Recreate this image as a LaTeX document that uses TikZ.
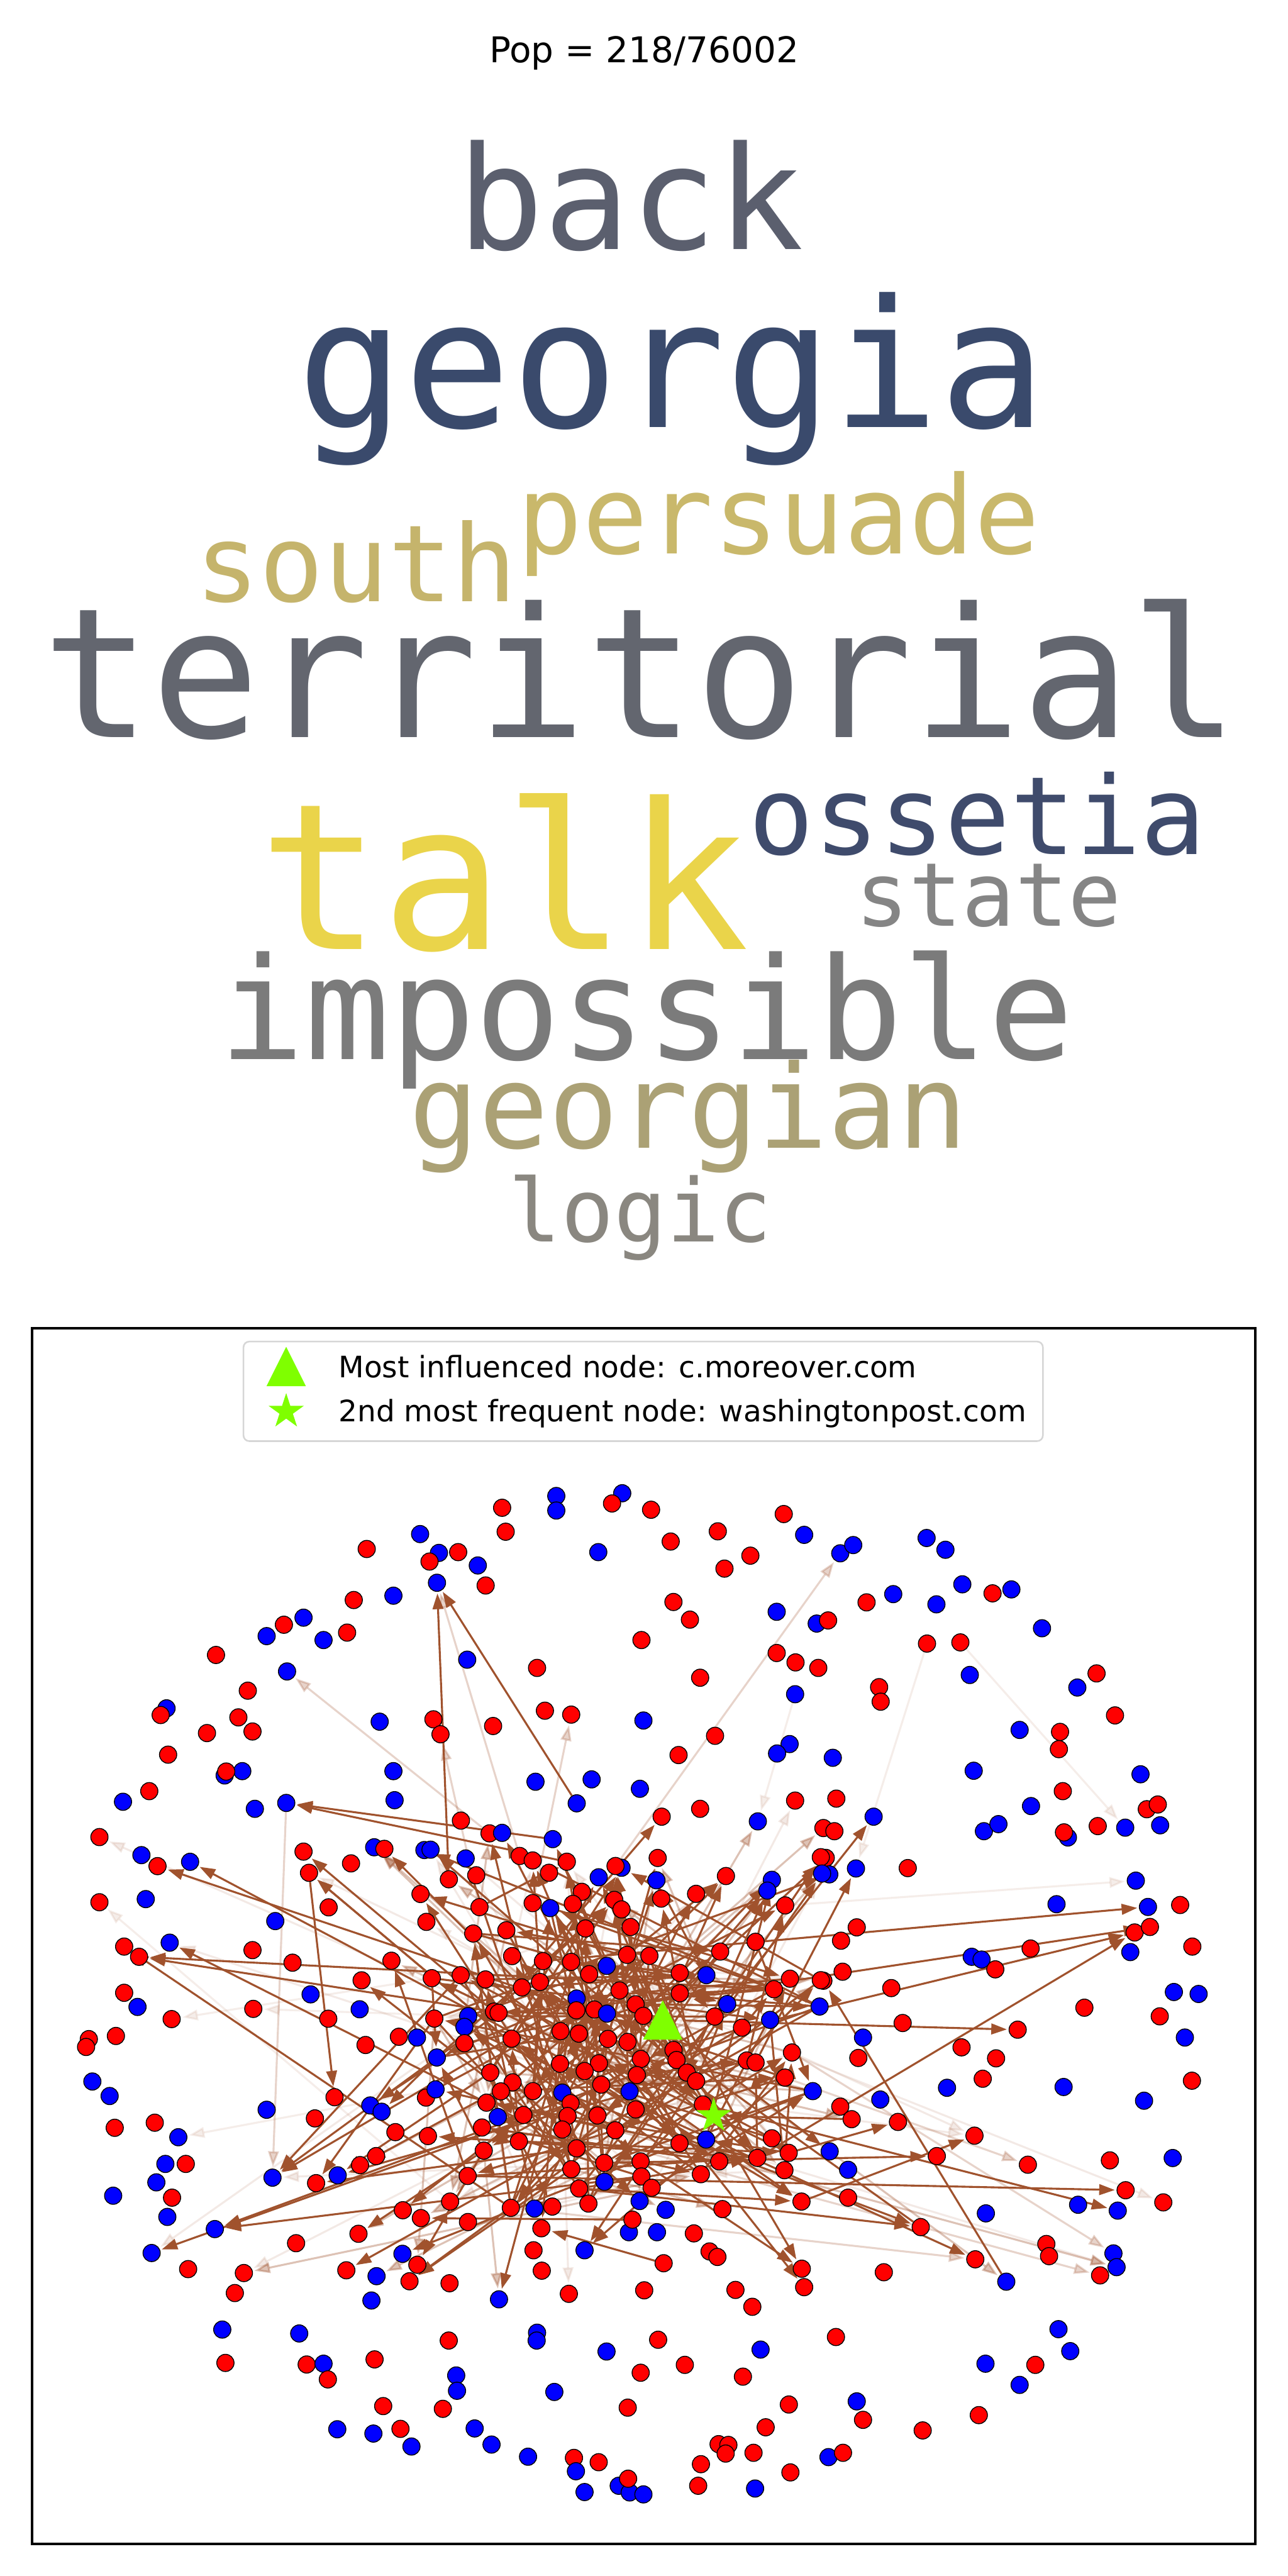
\documentclass[tikz,border=0pt]{standalone}
\usepackage{fontspec}
\setmainfont{DejaVu Sans}
\newfontfamily\cloudfont{DejaVu Sans Mono}
\usetikzlibrary{arrows.meta,shapes.geometric}
\definecolor{EdgeBrown}{HTML}{A0522D}
\definecolor{MarkGreen}{HTML}{7FFF00}
\definecolor{LegFrame}{HTML}{D6D6D6}
\definecolor{wBack}{HTML}{5B5F6E}
\definecolor{wGeorgia}{HTML}{3A4A6C}
\definecolor{wPersuade}{HTML}{C9B86B}
\definecolor{wSouth}{HTML}{C5B46C}
\definecolor{wTerr}{HTML}{63666F}
\definecolor{wTalk}{HTML}{EAD44A}
\definecolor{wOssetia}{HTML}{3F4B6C}
\definecolor{wState}{HTML}{858585}
\definecolor{wImposs}{HTML}{7B7B7B}
\definecolor{wGeorgian}{HTML}{ABA175}
\definecolor{wLogic}{HTML}{8A8780}
\pgfdeclarelayer{paper}
\pgfdeclarelayer{edges}
\pgfsetlayers{paper,edges,main}

\begin{document}
\begin{tikzpicture}[x=0.02cm, y=-0.02cm,
  word/.style={anchor=base, inner sep=0pt, font=\cloudfont\fontsize{#1}{#1}\selectfont},
  legtext/.style={anchor=base west, inner sep=0pt, font=\fontsize{10.24}{12}\selectfont},
  dot/.style={circle, fill=#1, draw=black, line width=0.3pt, minimum size=0.21cm, inner sep=0pt},
  edge/.style={draw=EdgeBrown, line width=0.68pt, -{Triangle[length=0.19cm,width=0.13cm]}, shorten >=0.6pt},
  faint/.style={opacity=0.25},
  dim/.style={opacity=0.1},
  trimark/.style={minimum size=0.48cm, inner sep=0pt,
    path picture={\fill[MarkGreen] (path picture bounding box.south west)
      -- (path picture bounding box.south east) -- (path picture bounding box.north) -- cycle;}},
  starmark/.style={star, star points=5, star point ratio=2.618, fill=MarkGreen,
    minimum size=0.45cm, inner sep=0pt}]
  \begin{pgfonlayer}{paper}
    \fill[white] (0,0) rectangle (784,1568);
  \end{pgfonlayer}
  \useasboundingbox (0,0) rectangle (784,1568);

  \node[anchor=base, inner sep=0pt, font=\fontsize{12.3}{14}\selectfont] (title) at (392,37.9) {Pop = 218/76002};

  % word cloud
  \node[word=49.8, text=wBack] (wback) at (383.8,151.8) {back};
  \node[word=61.6, text=wGeorgia] (wgeorgia) at (409,260) {georgia};
  \node[word=37.6, text=wPersuade] (wpersuade) at (474,337) {persuade};
  \node[word=37.0, text=wSouth] (wsouth) at (216.8,366) {south};
  \node[word=62.6, text=wTerr] (wterritorial) at (390,449) {territorial};
  \node[word=70.6, text=wTalk] (wtalk) at (306.8,578) {talk};
  \node[word=37.6, text=wOssetia] (wossetia) at (595,520) {ossetia};
  \node[word=30.6, text=wState] (wstate) at (601.8,563.5) {state};
  \node[word=49.2, text=wImposs] (wimpossible) at (393.5,645) {impossible};
  \node[word=40.2, text=wGeorgian] (wgeorgian) at (419,699) {georgian};
  \node[word=30.3, text=wLogic] (wlogic) at (389.8,756) {logic};

  % network panel
  \draw[line width=0.83pt] (19.6,808.4) rectangle (764.2,1548.6);

  \begin{scope}[shift={(18.95,840.6)}, scale=0.2389]
    \foreach \px/\py/\cc [count=\i] in {
      1200/323/red, 1338/293/blue, 1338/330/blue, 1506/286/blue, 1480/312/red, 1209/384/red, 991/390/blue, 855/428/red, 1039/438/blue, 1088/436/red,
      1015/460/red, 1138/470/blue, 1445/436/blue, 1034/514/blue, 1158/521/red, 822/558/red, 923/547/blue, 644/621/red, 694/603/blue, 600/650/blue,
      745/660/blue, 805/641/red, 1555/660/red, 471/698/red, 1111/710/blue, 1289/731/red, 652/740/blue, 552/789/red, 345/834/blue, 330/851/red,
      528/857/red, 448/897/red, 564/893/red, 888/868/blue, 1025/862/red, 1043/900/red, 1177/879/red, 1309/840/red, 1376/850/red, 1560/865/blue,
      349/952/red, 538/994/blue, 493/1005/blue, 497/995/red, 923/994/blue, 1285/1021/blue, 1428/1015/blue, 1551/1039/blue, 301/1045/red, 234/1072/blue,
      570/1090/blue, 650/1075/blue, 926/1068/blue, 1390/1076/blue, 174/1162/red, 1095/1120/red, 281/1208/blue, 322/1236/red, 405/1225/blue, 694/1199/red,
      708/1253/red, 815/1229/red, 874/1188/blue, 900/1192/red, 1002/1195/blue, 174/1328/red, 292/1320/blue, 622/1376/blue, 758/1341/red, 992/1307/red,
      1007/1378/red, 237/1441/red, 275/1467/red, 353/1431/blue, 564/1450/red, 666/1482/red, 918/1477/red, 842/1527/red}
      \node[dot=\cc] (nw\i) at (\px,\py) {};
  \end{scope}

  \begin{scope}[shift={(392,840.6)}, scale=0.2389]
    \foreach \px/\py/\cc [count=\i] in {
      18/328/red, 356/339/red, 68/409/red, 188/383/red, 205/478/red, 271/445/red, 408/392/blue, 500/439/blue, 533/418/blue, 720/400/blue,
      768/430/blue, 75/563/red, 117/608/red, 338/588/blue, 440/618/blue, 469/610/red, 567/564/red, 635/543/blue, 745/569/blue, 811/518/blue,
      888/541/red, 936/531/blue, 1014/630/blue, 338/693/red, 386/717/red, 444/731/red, 721/669/red, 806/666/red, 830/749/blue, 143/756/red,
      1153/745/red, 1104/781/blue, 385/798/blue, 599/780/red, 603/817/red, 1200/852/red, 181/904/red, 88/953/red, 371/925/blue, 339/949/blue,
      481/960/blue, 957/889/blue, 1060/894/red, 1057/938/red, 840/993/blue, 1265/1002/blue, 1067/1045/red, 986/1083/blue, 1281/1091/red, 1309/1079/red,
      866/1147/blue, 903/1129/blue, 1080/1163/blue, 1070/1150/red, 1156/1134/red, 1226/1138/blue, 1315/1132/blue, 385/1069/red, 490/1064/red, 585/1110/blue,
      457/1139/red, 485/1147/red, 45/1110/red, 143/1090/red, 290/1122/blue, 463/1215/red, 472/1257/blue, 540/1242/blue, 672/1241/red, 1253/1273/blue,
      1051/1333/blue, 1284/1340/blue, 1366/1335/red, 1250/1405/red, 1289/1391/red, 1239/1455/blue, 1397/1441/red, 542/1392/red, 502/1426/red, 835/1467/blue,
      860/1474/blue, 985/1446/red, 895/1499/red, 457/1528/red, 506/1505/red}
      \node[dot=\cc] (ne\i) at (\px,\py) {};
  \end{scope}

  \begin{scope}[shift={(18.95,1193.4)}, scale=0.2389]
    \foreach \px/\py/\cc [count=\i] in {
      237/82/red, 271/118/blue, 358/149/red, 566/123/red, 712/86/blue, 757/148/red, 837/124/blue, 147/200/red, 140/220/red, 216/192/red,
      156/308/blue, 200/345/blue, 852/215/red, 937/194/red, 983/196/blue, 600/380/blue, 773/348/red, 723/402/red, 213/426/red, 315/413/red,
      375/450/blue, 342/518/blue, 394/518/red, 319/565/blue, 359/604/red, 209/599/blue, 347/653/blue, 615/553/blue, 726/567/red, 781/547/blue,
      838/521/red, 879/498/red, 928/437/red, 1011/447/red, 864/369/blue, 893/385/blue, 1006/349/red, 468/684/blue, 307/745/blue, 400/786/red,
      542/796/red, 519/847/red, 675/720/red, 834/696/red, 947/636/red, 993/656/red, 946/747/blue, 984/775/red, 803/789/red, 880/804/blue,
      964/817/red, 867/866/blue, 1066/822/red, 1113/666/red, 1300/682/red, 1280/738/red, 1301/790/red, 1410/738/blue, 1370/849/red, 1192/863/blue,
      1523/692/blue, 1532/660/red, 1562/840/red, 487/940/blue, 683/950/blue, 495/1025/red, 702/1029/red, 745/1027/blue, 756/1067/red, 875/1016/red,
      1064/968/red, 1289/948/blue, 1288/968/blue, 1466/996/blue, 1553/1050/red, 1083/1057/blue, 1085/1096/blue, 1333/1099/blue, 897/1135/red, 1049/1142/red,
      1520/1139/red, 780/1194/blue, 872/1205/blue, 941/1193/red, 969/1238/blue, 1130/1192/blue, 1173/1233/blue, 1266/1264/blue, 1383/1267/red, 1446/1278/red,
      1388/1301/blue, 1410/1354/blue, 1497/1338/blue, 1525/1355/blue, 1521/1320/red, 1560/1360/blue}
      \node[dot=\cc] (sw\i) at (\px,\py) {};
  \end{scope}

  \begin{scope}[shift={(392,1193.4)}, scale=0.2389]
    \foreach \px/\py/\cc [count=\i] in {
      1350/80/blue, 1413/85/blue, 630/70/red, 1122/120/red, 1314/142/red, 1378/196/blue, 952/176/red, 659/159/red, 558/196/blue, 809/221/red,
      897/249/red, 546/248/red, 863/301/red, 772/324/blue, 1069/322/blue, 1274/357/blue, 1396/306/red, 602/354/blue, 500/372/red, 529/404/red,
      647/411/red, 842/446/red, 746/498/red, 978/520/red, 1187/509/red, 1347/503/blue, 1227/585/red, 1323/616/red, 1106/622/blue, 1207/637/blue,
      871/644/blue, 705/679/red, 520/604/red, 520/533/blue, 473/486/blue, 1025/722/red, 1032/753/red, 1196/746/blue, 1204/781/blue, 1162/802/red,
      844/761/red, 923/818/blue, 611/794/red, 402/785/red, 408/832/red, 233/839/red, 276/882/red, 50/771/red, 167/741/red, 187/755/red,
      127/695/red, 33/692/blue, 36/966/red, 297/991/blue, 104/1030/red, 252/1060/red, 489/959/red, 542/1123/blue, 558/1170/red, 369/1131/red,
      310/1189/red, 190/1232/red, 215/1234/red, 208/1256/red, 279/1254/red, 470/1265/blue, 507/1254/red, 145/1283/red, 373/1304/red, 138/1338/red,
      283/1345/blue, 710/1197/red, 853/1158/red, 870/1027/blue, 997/1030/red, 957/1081/blue, 1056/939/blue, 1086/995/blue}
      \node[dot=\cc] (se\i) at (\px,\py) {};
  \end{scope}

  \begin{scope}[shift={(261.3,1110.6)}, scale=0.15277]
    \foreach \px/\py/\cc [count=\i] in {
      5/100/blue, 145/135/blue, 240/35/red, 290/33/blue, 492/58/blue, 360/125/red, 412/143/red, 548/148/red, 477/192/red, 78/218/red,
      187/202/red, 766/172/blue, 742/165/red, 675/210/blue, 910/133/red, 905/222/blue, 924/295/red, 1182/205/red, 1063/276/red, 1365/220/blue,
      1347/263/blue, 1418/322/red, 1560/130/red, 1565/195/blue, 608/268/red, 572/316/red, 737/300/red, 766/338/red, 412/313/red, 482/333/blue,
      200/329/red, 802/408/red, 622/414/red, 175/434/red, 307/421/red, 1300/467/red, 1159/506/red, 330/524/red, 453/544/red, 565/547/red,
      788/519/red, 877/523/red, 707/563/blue, 637/596/red, 125/600/red, 224/617/red, 10/612/red, 369/649/red, 441/627/red, 998/591/red,
      1104/600/blue, 1437/614/red, 1373/656/red, 1560/620/red, 758/661/red, 998/672/red, 587/693/blue, 586/740/red, 658/737/red, 708/753/blue,
      822/716/red, 853/762/red, 258/745/red, 276/750/red, 155/763/blue, 140/806/blue, 20/773/red, 1187/715/blue, 1358/778/blue, 1137/765/red,
      1246/809/red, 1555/725/blue, 523/823/red, 596/833/red, 712/854/red, 790/866/red, 328/853/red, 140/871/red, 30/928/blue, 973/898/red,
      985/938/red, 843/934/red, 1445/908/red, 1265/940/red, 1300/948/red, 521/953/red, 676/951/red, 619/982/red, 243/988/red, 1026/988/red,
      1063/1022/red, 827/998/red, 685/1036/red, 332/1027/red, 285/1063/red, 413/1062/red, 530/1068/blue, 563/1110/red, 551/1161/red, 530/1215/red,
      25/1055/blue, 798/1063/blue, 228/1108/red, 273/1165/blue, 375/1157/red, 670/1159/red, 822/1135/red, 1417/1008/red, 1528/1062/blue, 1090/1115/red,
      1103/1255/blue, 997/1270/red, 210/1207/red, 741/1218/red, 357/1262/red, 217/1299/red, 587/1290/red, 1365/1250/red, 1432/1308/red, 1415/1377/red,
      1307/1328/red, 1155/1342/red, 1082/1393/red, 697/1348/red, 842/1342/red, 845/1402/red, 886/1447/red, 566/1373/red, 698/1423/blue, 153/1400/red,
      597/1450/red, 634/1510/red, 490/1522/red, 419/1530/blue, 325/1527/red, 83/1502/red, 838/1500/blue, 942/1535/blue, 1168/1532/red, 1483/1502/red}
      \node[dot=\cc] (c\i) at (\px,\py) {};
  \end{scope}

  \node[trimark] (infl) at (403.4,1229.5) {};
  \node[starmark] (freq) at (434.4,1287.9) {};

  \begin{pgfonlayer}{edges}
    \foreach \s/\t in {c10/nw14, nw54/nw14, c5/nw52, c8/nw52, nw61/sw17, c39/ne72, c61/ne75, c71/ne74,
      c121/ne74, c131/se32, c125/se44, se42/ne84, infl/se7, se32/c80, c45/sw28, c67/sw29, c89/sw30,
      c94/sw31, c78/sw35, c116/sw48, c128/sw51, sw62/sw46, se48/sw55, c114/nw61, c106/nw61, c90/c21,
      c55/c22, c92/c84, c53/c56, se20/freq, c119/se21, c140/se22}
      \draw[edge] (\s) -- (\t);
    \foreach \s/\t in {nw52/sw28, c108/se24, c83/se38, c135/se41, c29/nw39, c31/nw36, c3/nw27,
      c13/ne8, c100/se40, c6/nw14}
      \draw[edge, faint] (\s) -- (\t);
    \foreach \s/\t in {c136/nw66, c101/sw21, c47/sw3, c65/sw4, ne28/ne56, ne27/ne68, ne33/ne65, c22/ne70}
      \draw[edge, dim] (\s) -- (\t);
    \pgfmathsetseed{2718}
    \foreach \k in {1,...,240}{
      \pgfmathrandominteger{\src}{30}{135}
      \pgfmathrandominteger{\dst}{1}{140}
      \pgfmathrandominteger{\lvl}{1}{10}
      \ifnum\lvl<8 \def\op{1}\else\ifnum\lvl<10 \def\op{0.35}\else\def\op{0.12}\fi\fi
      \ifnum\src=\dst\else\draw[edge, opacity=\op] (c\src) -- (c\dst);\fi
    }
    \foreach \pre/\lo/\hi/\num in {sw/28/60/30, nw/55/78/20, se/19/45/15, ne/58/69/8}{
      \foreach \k in {1,...,\num}{
        \pgfmathrandominteger{\src}{40}{135}
        \pgfmathrandominteger{\dst}{\lo}{\hi}
        \pgfmathrandominteger{\lvl}{1}{10}
        \ifnum\lvl<7 \def\op{1}\else\ifnum\lvl<9 \def\op{0.35}\else\def\op{0.12}\fi\fi
        \draw[edge, opacity=\op] (c\src) -- (\pre\dst);
      }
    }
  \end{pgfonlayer}

  % legend
  \draw[draw=LegFrame, line width=0.55pt, fill=white, rounded corners=2pt] (148.2,816.6) rectangle (634.8,877.2);
  \node[trimark] (legtri) at (174.2,831.8) {};
  \node[starmark] (legstar) at (174.2,859.2) {};
  \node[legtext] (leg1) at (205.8,838.5) {Most influenced node: c.moreover.com};
  \node[legtext] (leg2) at (205.8,865.2) {2nd most frequent node: washingtonpost.com};
\end{tikzpicture}
\end{document}
